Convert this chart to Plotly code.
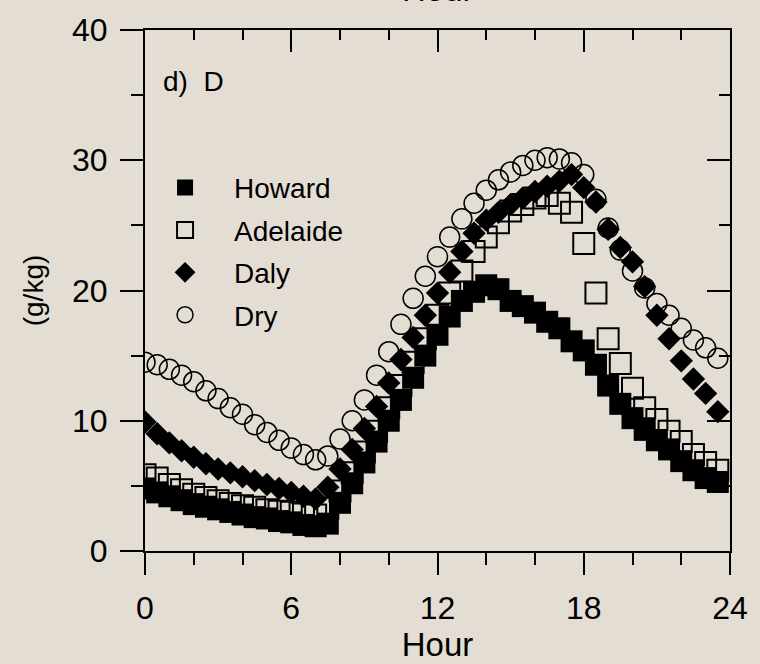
import plotly.graph_objects as go

HOURS = [0, 0.5, 1, 1.5, 2, 2.5, 3, 3.5, 4, 4.5, 5, 5.5, 6, 6.5, 7, 7.5,
         8, 8.5, 9, 9.5, 10, 10.5, 11, 11.5, 12, 12.5, 13, 13.5, 14, 14.5, 15, 15.5,
         16, 16.5, 17, 17.5, 18, 18.5, 19, 19.5, 20, 20.5, 21, 21.5, 22, 22.5, 23, 23.5]

HOWARD = [4.8, 4.5, 4.2, 3.9, 3.6, 3.4, 3.2, 3.0, 2.8, 2.6, 2.5, 2.3, 2.2, 2.0, 1.9, 2.1,
          3.7, 5.2, 6.8, 8.4, 10.0, 11.6, 13.3, 15.0, 16.6, 18.0, 19.2, 19.9, 20.4, 20.1, 19.2, 18.8,
          18.3, 17.6, 17.1, 16.1, 15.4, 14.3, 12.7, 11.3, 10.2, 9.3, 8.5, 7.8, 6.9, 6.2, 5.6, 5.3]

ADELAIDE = [5.85, 5.6, 5.1, 4.7, 4.35, 4.1, 3.85, 3.65, 3.47, 3.35, 3.17, 3.05, 2.97, 2.85, 2.77, 3.3,
            4.6, 6.0, 7.6, 9.2, 11.0, 12.7, 14.5, 16.3, 18.1, 19.8, 21.5, 23.0, 24.1, 25.2, 26.1, 26.6,
            27.1, 27.3, 26.7, 26.0, 23.6, 19.8, 16.3, 14.4, 12.5, 11.0, 10.1, 9.2, 8.4, 7.4, 6.8, 6.2]

DALY = [9.9, 9.0, 8.3, 7.7, 7.2, 6.7, 6.3, 6.0, 5.7, 5.4, 5.1, 4.8, 4.5, 4.2, 4.0, 4.9,
        6.3, 7.8, 9.4, 11.1, 12.9, 14.7, 16.4, 18.1, 19.8, 21.4, 23.0, 24.4, 25.4, 26.0, 26.6, 27.1,
        27.6, 28.0, 28.4, 28.9, 27.9, 26.8, 24.7, 23.3, 22.2, 20.3, 18.1, 16.3, 14.6, 13.2, 12.1, 10.7]

DRY = [14.5, 14.3, 13.95, 13.5, 13.0, 12.3, 11.7, 11.0, 10.5, 9.7, 9.1, 8.5, 7.9, 7.4, 7.0, 7.3,
       8.6, 10.0, 11.6, 13.5, 15.3, 17.4, 19.4, 21.1, 22.6, 24.1, 25.5, 26.7, 27.7, 28.5, 29.1, 29.6,
       30.0, 30.2, 30.1, 29.8, 28.9, 27.0, 24.8, 23.1, 21.5, 20.2, 19.0, 18.1, 17.1, 16.2, 15.6, 14.8]

X_TICKS = [0, 6, 12, 18, 24]
Y_TICKS = [0, 10, 20, 30, 40]

BG = "#e4ddd3"
FONT = "Liberation Sans, Arial, sans-serif"

fig = go.Figure()

fig.add_trace(go.Scatter(x=HOURS, y=ADELAIDE, mode="markers", name="Adelaide",
                         legendrank=2, legendgroup="b",
                         marker=dict(symbol="square-open", size=21, color="black",
                                     line=dict(width=2, color="black"))))
fig.add_trace(go.Scatter(x=HOURS, y=HOWARD, mode="markers", name="Howard",
                         legendrank=1, legendgroup="a",
                         marker=dict(symbol="square", size=22, color="black",
                                     line=dict(width=0))))
fig.add_trace(go.Scatter(x=HOURS, y=DALY, mode="markers", name="Daly",
                         legendrank=3, legendgroup="c",
                         marker=dict(symbol="diamond", size=18, color="black",
                                     line=dict(width=0))))
fig.add_trace(go.Scatter(x=HOURS, y=DRY, mode="markers", name="Dry",
                         legendrank=4, legendgroup="d",
                         marker=dict(symbol="circle-open", size=20, color="black",
                                     line=dict(width=1.5, color="black"))))

# invisible trace to carry the mirrored (inside-tick) top/right axes
fig.add_trace(go.Scatter(x=[X_TICKS[0]], y=[Y_TICKS[0]], xaxis="x2", yaxis="y2",
                         mode="markers", marker=dict(opacity=0), showlegend=False,
                         hoverinfo="skip"))

axis_common = dict(showgrid=False, zeroline=False, showline=True, linecolor="black",
                   linewidth=2, tickcolor="black", tickwidth=2)

fig.update_layout(
    width=760, height=664,
    margin=dict(l=145, r=27, t=24, b=106),
    paper_bgcolor=BG, plot_bgcolor=BG,
    font=dict(family=FONT, color="black", size=28),
    xaxis=dict(range=[0, 24], tickvals=X_TICKS, ticks="outside", ticklen=22,
               tickfont=dict(size=32), ticklabelstandoff=6,
               minor=dict(dtick=2, ticks="outside", ticklen=12, tickwidth=2, tickcolor="black"),
               title=dict(text="Hour", font=dict(size=33), standoff=2),
               **axis_common),
    yaxis=dict(range=[0, 40], tickvals=Y_TICKS, ticks="outside", ticklen=23,
               tickfont=dict(size=32), ticklabelstandoff=6,
               minor=dict(dtick=5, ticks="outside", ticklen=12, tickwidth=2, tickcolor="black"),
               title=dict(text="(g/kg)", font=dict(size=28), standoff=20),
               **axis_common),
    xaxis2=dict(range=[0, 24], overlaying="x", side="top", anchor="y2",
                tickvals=X_TICKS, ticks="inside", ticklen=22, showticklabels=False,
                minor=dict(dtick=2, ticks="inside", ticklen=10, tickwidth=2, tickcolor="black"),
                **axis_common),
    yaxis2=dict(range=[0, 40], overlaying="y", side="right", anchor="x2",
                tickvals=Y_TICKS, ticks="inside", ticklen=23, showticklabels=False,
                minor=dict(dtick=5, ticks="inside", ticklen=11, tickwidth=2, tickcolor="black"),
                **axis_common),
    legend=dict(x=-0.0153, y=0.745, xanchor="left", yanchor="top", bgcolor="rgba(0,0,0,0)",
                font=dict(size=28), itemwidth=88, tracegroupgap=3,
                itemsizing="trace"),
    showlegend=True,
    annotations=[
        dict(text="d)  D", xref="paper", yref="paper", x=0.027, y=0.902,
             xanchor="left", yanchor="middle", showarrow=False, font=dict(size=28)),
        dict(text="Hour", xref="paper", yref="paper", x=0.5, y=1.038,
             xanchor="center", yanchor="bottom", showarrow=False, font=dict(size=33)),
    ],
)

fig.write_html("out.html")
